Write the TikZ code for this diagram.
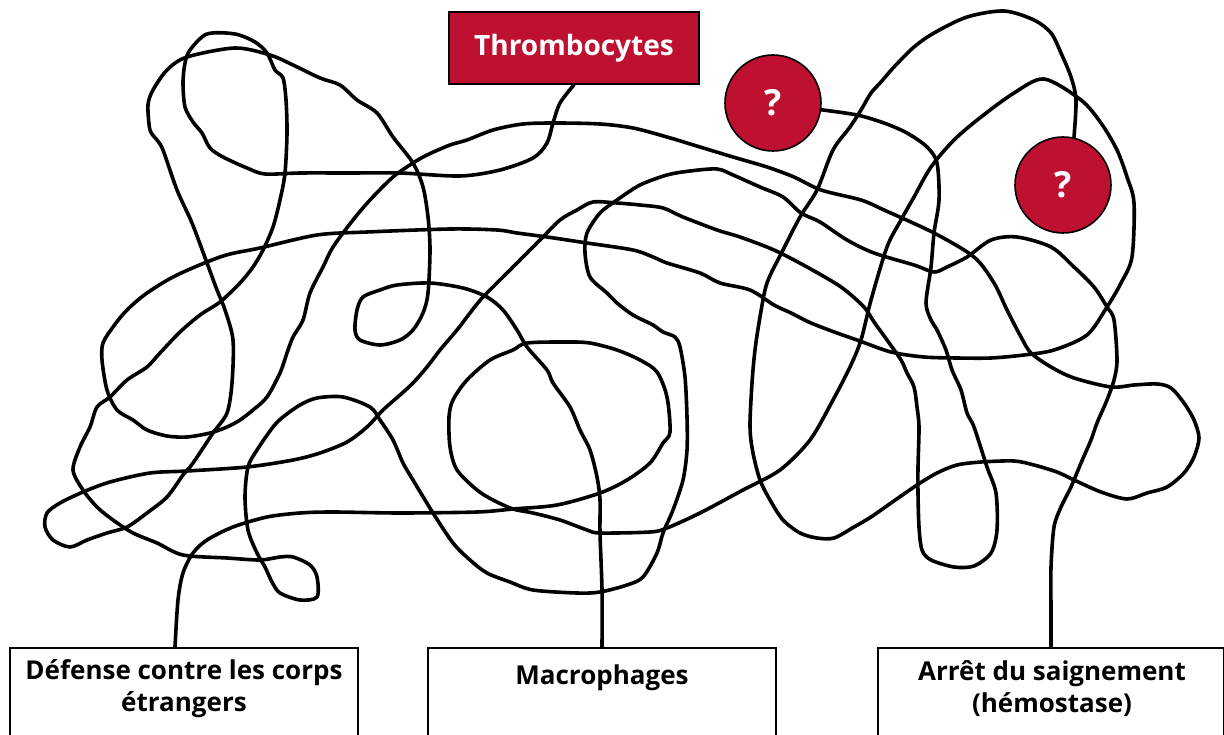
\documentclass[tikz,border=0pt]{standalone}
\usepackage{fontspec}
\setmainfont{Open Sans}
\usetikzlibrary{positioning}
\definecolor{bloodred}{HTML}{BE1030}
\begin{document}
\begin{tikzpicture}[
  x=1pt, y=-1pt,
  wire/.style={line width=3.6pt, line join=round, line cap=round},
  bottombox/.style={draw, line width=1.6pt, fill=white, minimum width=348pt, minimum height=100pt, anchor=north},
  boxtext/.style={font=\fontsize{26}{32}\selectfont\bfseries, align=center},
  redbox/.style={draw, line width=1.6pt, fill=bloodred, text=white, minimum width=250pt, minimum height=72pt, font=\fontsize{28}{34}\selectfont\bfseries},
  qnode/.style={circle, draw, line width=1.6pt, fill=bloodred, text=white, minimum size=96pt, inner sep=0pt, font=\fontsize{36}{40}\selectfont\bfseries}
]
  \useasboundingbox (0,0) rectangle (1224,735);

  \node[redbox] (thr) at (574,48) {Thrombocytes};
  \node[qnode] (q1) at (773,103) {?};
  \node[qnode] (q2) at (1063,185) {?};

  \node[bottombox] (defense) at (184,647) {};
  \node[bottombox] (macro) at (602,647) {};
  \node[bottombox, minimum width=346pt] (arret) at (1051,647) {};

  \node[boxtext] (defensetxt) at (184,689) {Défense contre les corps\\étrangers};
  \node[boxtext] (macrotxt) at (602,678) {Macrophages};
  \node[boxtext] (arrettxt) at (1052,689) {Arrêt du saignement\\(hémostase)};

  \draw[wire] plot[smooth, tension=0.5] coordinates {(thr.south) (560,103) (553,123) (547,143) (533,158) (500,170) (460,176) (400,173) (350,173) (300,173) (265,174) (247,168) (223,157) (210,148) (202,133) (193,122) (185,107) (183,83) (185,63) (190,50) (207,34) (235,34) (255,42) (267,53) (275,70) (283,78) (286,100) (287,133) (285,173) (280,200) (273,227) (263,250) (253,267) (240,283) (220,302) (200,315) (180,332) (160,353) (147,367) (127,380) (110,397) (97,407) (90,427) (80,447) (73,470) (83,490) (97,507) (113,520) (133,533) (157,543) (183,555) (227,558) (260,560) (280,557) (293,557) (310,565) (317,577) (317,597) (300,600) (280,593) (272,582) (265,567) (257,553) (248,530) (245,497) (248,467) (257,450) (273,427) (283,417) (300,405) (317,398) (343,397) (370,407) (380,420) (393,440) (403,463) (413,480) (433,513) (453,543) (470,560) (487,573) (510,582) (533,590) (577,593) (600,592) (627,585) (643,577) (657,553) (663,533) (673,510) (683,480) (687,450) (687,417) (685,377) (680,347) (675,337) (663,332) (653,325) (633,315) (617,303) (607,293) (590,277) (585,253) (587,233) (600,213) (617,200) (640,185) (667,175) (690,171) (717,169) (733,175) (760,187) (783,197) (801,213) (820,222) (847,240) (874,253) (914,265) (934,272) (947,267) (967,257) (991,240) (1017,237) (1051,247) (1074,267) (1094,287) (1107,307) (1114,320) (1117,360) (1114,380) (1107,400) (1097,423) (1091,440) (1081,463) (1071,487) (1061,507) (1054,527) (1051,567) (1051,610) (arret.north)};

  \draw[wire] plot[smooth, tension=0.5] coordinates {([xshift=-9pt]defense.north) (178,600) (183,573) (193,553) (207,540) (233,527) (267,517) (300,513) (333,512) (400,513) (477,512) (513,509) (557,505) (600,493) (627,480) (650,463) (663,443) (670,432) (667,397) (657,372) (640,360) (617,350) (590,343) (567,342) (527,343) (513,350) (490,360) (467,380) (453,400) (449,417) (450,447) (457,470) (477,490) (493,500) (513,509) (533,513) (560,520) (587,530) (600,533) (650,532) (667,528) (700,513) (743,490) (780,470) (810,440) (833,400) (850,367) (861,340) (871,300) (887,247) (901,220) (914,197) (931,167) (954,140) (981,117) (1014,93) (1044,79) (1081,100) (1101,123) (1117,150) (1127,177) (1134,203) (1132,257) (1121,283) (1107,307) (1087,335) (1054,350) (1024,355) (991,358) (957,358) (924,357) (891,352) (857,340) (837,333) (811,323) (791,313) (774,305) (750,290) (720,283) (700,273) (667,263) (653,257) (633,250) (587,243) (547,237) (517,233) (497,230) (450,229) (367,232) (317,235) (260,248) (223,256) (177,275) (147,293) (127,310) (113,327) (103,343) (102,360) (107,390) (117,410) (133,420) (147,430) (167,436) (187,437) (210,433) (227,427) (240,420) (253,410) (267,397) (280,373) (287,353) (293,337) (303,320) (310,293) (323,267) (333,247) (353,220) (370,200) (393,177) (413,163) (427,155) (450,145) (467,140) (493,130) (523,124) (557,123) (600,124) (633,128) (667,137) (700,147) (733,157) (767,167) (794,177) (821,190) (861,200) (884,210) (934,233) (974,257) (994,283) (1007,310) (1021,337) (1031,353) (1051,367) (1074,378) (1111,387) (1134,385) (1157,384) (1171,388) (1184,403) (1194,420) (1199,438) (1194,457) (1184,473) (1167,487) (1147,493) (1127,499) (1101,492) (1074,480) (1057,472) (1034,465) (1014,461) (981,462) (957,465) (937,473) (917,485) (891,503) (871,517) (854,527) (834,538) (817,538) (800,533) (783,520) (770,500) (760,480) (753,453) (750,427) (752,383) (755,350) (760,317) (767,283) (783,250) (800,217) (817,190) (833,150) (850,127) (861,110) (871,93) (881,82) (894,67) (914,47) (934,33) (967,17) (1004,11) (1034,20) (1051,33) (1061,53) (1071,77) (1076,100) (q2.77)};

  \draw[wire] plot[smooth, tension=0.5] coordinates {(q1.-8) (857,115) (884,123) (907,133) (927,147) (937,163) (939,200) (934,233) (931,267) (926,303) (931,320) (937,330) (946,350) (952,370) (961,390) (967,413) (974,427) (987,467) (996,493) (997,530) (991,553) (974,566) (954,567) (931,560) (922,550) (919,527) (918,493) (918,467) (919,427) (917,407) (914,387) (907,373) (901,360) (887,340) (874,322) (864,307) (841,287) (807,267) (774,250) (740,237) (717,230) (683,217) (663,208) (640,205) (617,203) (593,202) (577,210) (560,220) (540,240) (510,270) (483,297) (470,313) (457,330) (440,350) (427,367) (413,383) (400,395) (383,410) (367,427) (347,442) (320,453) (293,460) (247,467) (187,471) (150,473) (110,482) (83,492) (60,503) (47,513) (45,527) (53,540) (70,547) (87,540) (107,533) (127,527) (147,513) (167,497) (183,475) (193,463) (213,433) (227,413) (232,383) (233,340) (225,310) (217,290) (207,263) (192,223) (177,190) (163,150) (157,140) (150,130) (148,105) (153,90) (167,70) (187,57) (235,48) (270,55) (293,65) (320,78) (340,85) (357,100) (377,113) (393,137) (413,163) (423,187) (428,217) (430,250) (428,293) (423,313) (413,330) (400,340) (380,345) (360,340) (355,330) (357,310) (363,297) (380,290) (397,285) (430,283) (463,288) (487,297) (503,310) (517,330) (527,347) (547,370) (553,383) (570,407) (580,430) (590,450) (597,477) (600,500) (600,533) (602,590) (macro.north)};
\end{tikzpicture}
\end{document}
